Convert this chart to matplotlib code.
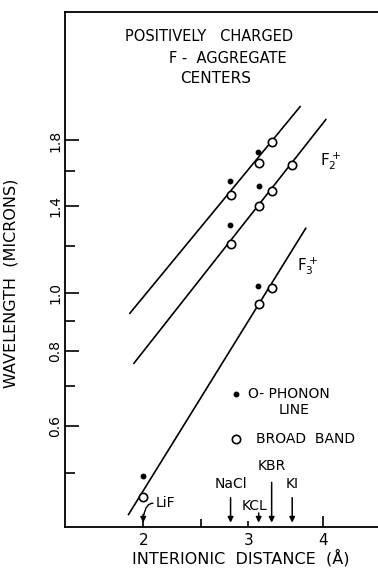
import matplotlib
matplotlib.use("Agg")
import matplotlib.pyplot as plt
import numpy as np

# --- DATA ---
# interionic distances (Angstrom)
crystals = ["LiF", "NaCl", "KCL", "KBR", "KI"]
crystal_d = [2.0, 2.8, 3.12, 3.28, 3.55]

# upper band (F2+ related, upper line)
up_x_open = [2.8, 3.12, 3.28]
up_y_open = [1.46, 1.65, 1.79]
up_x_fill = [2.79, 3.11]
up_y_fill = [1.54, 1.72]
up_line_x = [1.90, 3.66]
up_line_y = [0.926, 2.05]

# F2+ (middle line)
f2_x_open = [2.8, 3.12, 3.28, 3.55]
f2_y_open = [1.21, 1.40, 1.48, 1.64]
f2_x_fill = [2.79, 3.12]
f2_y_fill = [1.30, 1.51]
f2_line_x = [1.93, 4.04]
f2_line_y = [0.764, 1.95]

# F3+ (lower line)
f3_x_open = [2.0, 3.12, 3.28]
f3_y_open = [0.456, 0.96, 1.02]
f3_x_fill = [2.0, 3.11]
f3_y_fill = [0.495, 1.03]
f3_line_x = [1.89, 3.74]
f3_line_y = [0.427, 1.284]

y_major = [0.6, 0.8, 1.0, 1.4, 1.8]
y_minor = [0.5, 0.7, 0.9, 1.2, 1.6]
x_major = [2, 3, 4]
x_minor = [2.5]

# --- FIGURE ---
fig = plt.figure(figsize=(3.78, 5.71), dpi=100)
ax = fig.add_axes([65 / 378, 44 / 571, 1 - 65 / 378, 515 / 571])
ax.set_xscale("log")
ax.set_yscale("log")
ax.set_xlim(1.48, 4.94)
ax.set_ylim(0.407, 2.95)

lw = 1.2
for lx, ly in [(up_line_x, up_line_y), (f2_line_x, f2_line_y), (f3_line_x, f3_line_y)]:
    ax.plot(lx, ly, color="black", lw=lw, zorder=2)

for xo, yo in [(up_x_open, up_y_open), (f2_x_open, f2_y_open), (f3_x_open, f3_y_open)]:
    ax.plot(xo, yo, "o", ms=6, mfc="white", mec="black", mew=1.2, ls="none", zorder=3)
for xf, yf in [(up_x_fill, up_y_fill), (f2_x_fill, f2_y_fill), (f3_x_fill, f3_y_fill)]:
    ax.plot(xf, yf, "o", ms=3.2, color="black", ls="none", zorder=3)

# ticks
ax.set_yticks(y_major)
ax.set_yticklabels(["0.6", "0.8", "1.0", "1.4", "1.8"], rotation=90, va="center")
ax.set_yticks(y_minor, minor=True)
ax.yaxis.set_minor_formatter(matplotlib.ticker.NullFormatter())
ax.set_xticks(x_major)
ax.set_xticklabels(["2", "3", "4"])
ax.set_xticks(x_minor, minor=True)
ax.xaxis.set_minor_formatter(matplotlib.ticker.NullFormatter())
ax.tick_params(axis="y", which="major", direction="in", length=10, width=1.2, labelsize=10, pad=2)
ax.tick_params(axis="y", which="minor", direction="in", length=7.5, width=1.2)
ax.tick_params(axis="x", which="major", direction="in", length=8, width=1.2, labelsize=11, pad=4)
ax.tick_params(axis="x", which="minor", direction="in", length=6, width=1.2)
ax.xaxis.get_major_ticks()[1].tick1line.set_markersize(4.5)

for s in ["left", "bottom", "top"]:
    ax.spines[s].set_linewidth(1.3)
ax.spines["right"].set_visible(False)

ax.set_ylabel("WAVELENGTH  (MICRONS)", fontsize=11.5)
ax.yaxis.set_label_coords(-0.15, 0.474)
ax.set_xlabel("INTERIONIC  DISTANCE  (Å)", fontsize=11.5)
ax.xaxis.set_label_coords(0.562, -0.043)

# titles
tf = ax.transAxes
ax.text(0.46, 0.953, "POSITIVELY   CHARGED", transform=tf, ha="center", va="center", fontsize=10.5)
ax.text(0.52, 0.91, "F -  AGGREGATE", transform=tf, ha="center", va="center", fontsize=10.5)
ax.text(0.48, 0.871, "CENTERS", transform=tf, ha="center", va="center", fontsize=11)

ax.text(3.95, 1.66, r"F$_2^+$", fontsize=11, ha="left", va="center")
ax.text(3.61, 1.11, r"F$_3^+$", fontsize=11, ha="left", va="center")

# legend (hand-placed like the original)
ax.plot([2.86], [0.678], "o", ms=3.2, color="black")
ax.text(2.995, 0.678, "O- PHONON", fontsize=10, va="center")
ax.text(3.57, 0.638, "LINE", fontsize=10, va="center", ha="center")
ax.plot([2.86], [0.570], "o", ms=6, mfc="white", mec="black", mew=1.2)
ax.text(3.09, 0.570, "BROAD  BAND", fontsize=10, va="center")

# crystal markers
arrow_kw = dict(arrowstyle="-|>", color="black", lw=1.1, mutation_scale=8)
label_off = {"NaCl": (0, 30), "KCL": (-3, 14), "KBR": (0, 43), "KI": (0, 30)}
arrow_len = {"LiF": 10, "NaCl": 22, "KCL": 11, "KBR": 33, "KI": 22}
for name, d in zip(crystals, crystal_d):
    ax.annotate("", xy=(d, 0.003), xycoords=("data", "axes fraction"),
                xytext=(0, arrow_len[name]), textcoords="offset points", arrowprops=arrow_kw)
    if name == "LiF":
        ax.annotate(name, xy=(d, 0.003), xycoords=("data", "axes fraction"),
                    xytext=(9, 16), textcoords="offset points", ha="left", va="center", fontsize=10)
        # little hook from the label to the arrow
        ax.annotate("", xy=(d, 0.003), xycoords=("data", "axes fraction"),
                    xytext=(7, 16), textcoords="offset points",
                    arrowprops=dict(arrowstyle="-", color="black", lw=1.0,
                                    shrinkA=0, shrinkB=7.5,
                                    connectionstyle="angle3,angleA=180,angleB=90"))
    else:
        ox, oy = label_off[name]
        ax.annotate(name, xy=(d, 0.003), xycoords=("data", "axes fraction"),
                    xytext=(ox, oy), textcoords="offset points", ha="center", va="center", fontsize=10)

fig.savefig("out.png", dpi=100)
